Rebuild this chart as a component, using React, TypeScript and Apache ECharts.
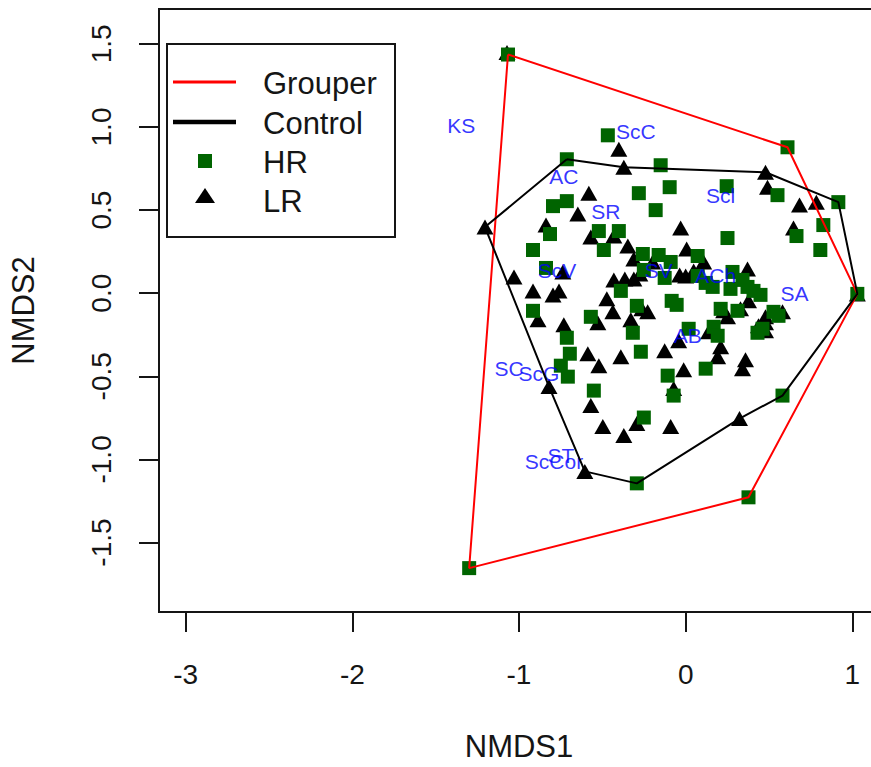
import React, { useEffect, useRef } from "react";
import * as echarts from "echarts";

// NMDS ordination scores (NMDS1, NMDS2) for high-relief (HR) sites
const hrPoints: [number, number][] = [
  [-1.066, 1.436], [-0.467, 0.95], [-0.713, 0.806], [-0.15, 0.77], [0.611, 0.878],
  [-0.281, 0.602], [-0.096, 0.638], [-0.18, 0.5], [-0.713, 0.554], [-0.796, 0.524],
  [0.246, 0.644], [0.551, 0.59], [0.916, 0.548], [0.826, 0.41], [0.808, 0.26],
  [0.665, 0.344], [-0.814, 0.356], [-0.916, 0.26], [0.251, 0.332], [0.072, 0.224],
  [-0.521, 0.374], [-0.401, 0.374], [-0.491, 0.26], [-0.257, 0.236], [-0.162, 0.23],
  [-0.09, 0.188], [-0.251, 0.14], [-0.126, 0.092], [-0.838, 0.152], [-0.389, 0.014],
  [-0.916, -0.106], [-0.569, -0.142], [-0.293, -0.076], [-0.084, -0.046], [-0.054, -0.07],
  [-0.317, -0.238], [-0.713, -0.268], [-0.695, -0.364], [-0.749, -0.436], [-0.707, -0.502],
  [-0.269, -0.352], [-0.108, -0.496], [-0.072, -0.616], [-0.551, -0.586], [-0.251, -0.748],
  [0.072, 0.104], [0.12, 0.062], [0.162, 0.038], [0.281, 0.128], [0.341, 0.08],
  [0.371, 0.038], [0.407, 0.014], [0.449, -0.01], [0.269, 0.026], [0.21, -0.094],
  [0.311, -0.106], [0.527, -0.112], [0.557, -0.136], [0.461, -0.214], [0.431, -0.238],
  [0.018, -0.214], [0.168, -0.202], [0.192, -0.256], [0.12, -0.454], [1.03, -0.004],
  [0.581, -0.616], [-0.293, -1.144], [0.377, -1.228], [-1.299, -1.654],
];

// NMDS ordination scores for low-relief (LR) sites
const lrPoints: [number, number][] = [
  [-1.072, 1.448], [-0.401, 0.866], [-0.371, 0.758], [0.479, 0.728], [0.491, 0.638],
  [0.683, 0.53], [0.784, 0.548], [0.647, 0.392], [-0.581, 0.602], [-0.647, 0.476],
  [-1.204, 0.398], [-0.838, 0.41], [-0.03, 0.392], [0.006, 0.266], [0.108, 0.188],
  [-0.569, 0.338], [-0.431, 0.344], [-0.347, 0.284], [-0.311, 0.206], [-0.198, 0.188],
  [-1.03, 0.098], [-0.737, 0.128], [-0.916, 0.014], [-0.796, -0.01], [-0.76, 0.014],
  [-0.886, -0.16], [-0.731, -0.19], [-0.527, -0.178], [-0.473, -0.034], [-0.437, -0.112],
  [-0.431, 0.08], [-0.365, 0.086], [-0.311, 0.086], [-0.275, 0.116], [-0.329, -0.16],
  [-0.263, -0.094], [-0.228, -0.112], [-0.036, 0.11], [0.0, 0.104], [0.048, 0.134],
  [0.371, 0.146], [0.377, -0.046], [0.329, -0.094], [0.228, -0.106], [0.251, -0.142],
  [0.581, -0.112], [0.479, -0.142], [0.479, -0.178], [0.437, -0.196], [0.138, -0.232],
  [-0.042, -0.286], [0.21, -0.322], [0.192, -0.382], [-0.126, -0.346], [-0.012, -0.46],
  [0.359, -0.4], [0.341, -0.454], [-0.587, -0.364], [-0.521, -0.436], [-0.389, -0.382],
  [-0.82, -0.562], [-0.569, -0.676], [-0.497, -0.802], [-0.371, -0.856], [-0.293, -0.784],
  [-0.072, -0.574], [-0.09, -0.802], [0.323, -0.754], [-0.605, -1.072], [1.03, -0.004],
  [0.479, -0.226],
];

// Convex hull vertices of each treatment (closed rings)
const grouperHull: [number, number][] = [
  [-1.066, 1.436], [0.611, 0.878], [1.03, -0.004], [0.377, -1.228], [-1.299, -1.654], [-1.066, 1.436],
];
const controlHull: [number, number][] = [
  [-0.713, 0.806], [-0.371, 0.758], [0.479, 0.728], [0.916, 0.548], [1.03, -0.004],
  [0.581, -0.616], [0.323, -0.754], [-0.293, -1.144], [-0.605, -1.072], [-0.82, -0.562],
  [-1.204, 0.398], [-0.713, 0.806],
];

// Species centroid labels
const speciesNames = ["KS", "ScC", "AC", "Scl", "SR", "ScV", "SV", "ACh", "SA", "AB", "SC", "ScG", "ST", "ScCor"];
const speciesX = [-1.347, -0.299, -0.731, 0.21, -0.479, -0.772, -0.162, 0.18, 0.653, 0.012, -1.06, -0.88, -0.749, -0.79];
const speciesY = [1.01, 0.973, 0.704, 0.59, 0.494, 0.134, 0.134, 0.104, -0.004, -0.256, -0.454, -0.484, -0.974, -1.012];

const xTicks = [-3, -2, -1, 0, 1];
const yTicks = [-1.5, -1, -0.5, 0, 0.5, 1, 1.5];

const FONT = '"Liberation Sans", Arial, Helvetica, sans-serif';
const INK = "#151515";
const HR_GREEN = "#006400";

export default function App() {
  const ref = useRef<HTMLDivElement>(null);

  useEffect(() => {
    if (!ref.current) return;
    const chart = echarts.init(ref.current, undefined, { renderer: "svg" });

    const option = {
      animation: false,
      backgroundColor: "#ffffff",
      grid: {
        left: 157,
        top: 9,
        width: 722,
        height: 605,
        show: true,
        borderColor: INK,
        borderWidth: 2,
        backgroundColor: "transparent",
      },
      xAxis: {
        type: "value",
        min: -3.16,
        max: 1.16,
        splitLine: { show: false },
        axisLine: { show: true, onZero: false, lineStyle: { color: INK, width: 2 } },
        axisTick: { show: true, length: 20, customValues: xTicks, lineStyle: { color: INK, width: 2 } },
        axisLabel: {
          customValues: xTicks,
          margin: 48,
          fontSize: 28,
          fontFamily: FONT,
          color: INK,
          formatter: (v: number) => String(v),
        },
        name: "NMDS1",
        nameLocation: "middle",
        nameGap: 119,
        nameTextStyle: { fontSize: 31, fontFamily: FONT, color: INK },
      },
      yAxis: {
        type: "value",
        min: -1.918,
        max: 1.71,
        splitLine: { show: false },
        axisLine: { show: true, onZero: false, lineStyle: { color: INK, width: 2 } },
        axisTick: { show: true, length: 20, customValues: yTicks, lineStyle: { color: INK, width: 2 } },
        axisLabel: {
          customValues: yTicks,
          rotate: 90,
          margin: 44,
          fontSize: 28,
          fontFamily: FONT,
          color: INK,
          formatter: (v: number) => v.toFixed(1),
        },
        name: "NMDS2",
        nameLocation: "middle",
        nameGap: 120,
        nameTextStyle: { fontSize: 31, fontFamily: FONT, color: INK },
      },
      series: [
        {
          name: "LR",
          type: "scatter",
          data: lrPoints,
          symbol: "triangle",
          symbolSize: [17, 15],
          itemStyle: { color: "#000000", opacity: 1 },
        },
        {
          name: "HR",
          type: "scatter",
          data: hrPoints,
          symbol: "rect",
          symbolSize: 14,
          itemStyle: { color: HR_GREEN, opacity: 1 },
        },
        {
          name: "Grouper",
          type: "line",
          data: grouperHull,
          symbol: "none",
          lineStyle: { color: "#ff0000", width: 2 },
        },
        {
          name: "Control",
          type: "line",
          data: controlHull,
          symbol: "none",
          lineStyle: { color: "#000000", width: 2 },
        },
        {
          name: "species",
          type: "scatter",
          symbolSize: 1,
          itemStyle: { color: "rgba(0,0,0,0)" },
          data: speciesNames.map((n, i) => ({ name: n, value: [speciesX[i], speciesY[i]] })),
          label: {
            show: true,
            position: "inside",
            formatter: (p: any) => p.name,
            color: "#0000ff",
            fontSize: 21,
            fontFamily: FONT,
          },
          labelLayout: { hideOverlap: false },
        },
      ],
      graphic: [
        {
          type: "group",
          z: 100,
          children: [
            {
              type: "rect",
              shape: { x: 167, y: 44, width: 228, height: 193 },
              style: { fill: "#ffffff", stroke: INK, lineWidth: 2 },
            },
            { type: "line", shape: { x1: 173, y1: 82, x2: 236, y2: 82 }, style: { stroke: "#ff0000", lineWidth: 3 } },
            { type: "line", shape: { x1: 173, y1: 122, x2: 236, y2: 122 }, style: { stroke: "#000000", lineWidth: 4.5 } },
            { type: "rect", shape: { x: 198, y: 154, width: 14, height: 14 }, style: { fill: HR_GREEN } },
            { type: "polygon", shape: { points: [[205, 188], [195, 203], [215, 203]] }, style: { fill: "#000000" } },
            { type: "text", x: 263, y: 83, style: { text: "Grouper", fontSize: 31, fontFamily: FONT, fill: INK, verticalAlign: "middle", align: "left" } },
            { type: "text", x: 263, y: 123, style: { text: "Control", fontSize: 31, fontFamily: FONT, fill: INK, verticalAlign: "middle", align: "left" } },
            { type: "text", x: 263, y: 162, style: { text: "HR", fontSize: 31, fontFamily: FONT, fill: INK, verticalAlign: "middle", align: "left" } },
            { type: "text", x: 263, y: 201, style: { text: "LR", fontSize: 31, fontFamily: FONT, fill: INK, verticalAlign: "middle", align: "left" } },
          ],
        },
      ],
    };

    chart.setOption(option as any);
    return () => chart.dispose();
  }, []);

  return (
    <div style={{ position: "absolute", left: 0, top: 0, width: 871, height: 767, overflow: "hidden", background: "#fff" }}>
      <div ref={ref} style={{ width: 884, height: 767 }} />
    </div>
  );
}
